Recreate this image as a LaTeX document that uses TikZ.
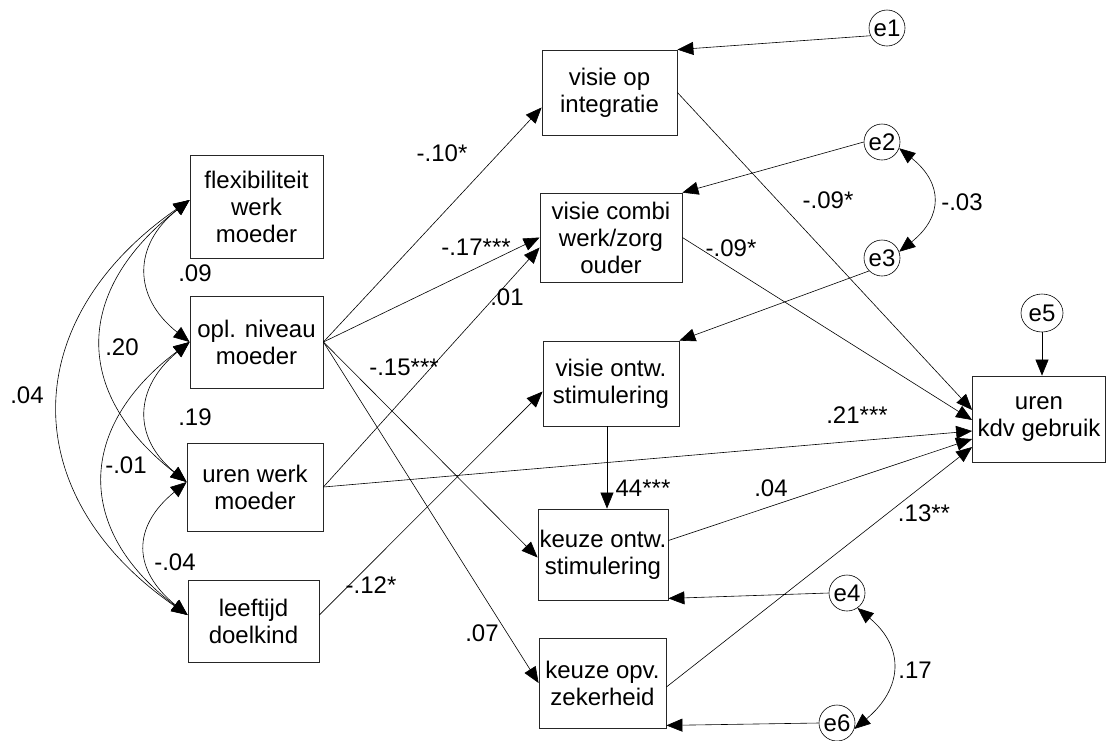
\documentclass[tikz,border=0pt]{standalone}
\usepackage{fontspec}
\setmainfont{Liberation Sans}
\usetikzlibrary{arrows.meta, positioning, calc, shapes.geometric}

\tikzset{
  box/.style={draw=black!85, line width=0.8pt, inner sep=0pt, align=center},
  err/.style={draw, circle, line width=0.6pt, inner sep=0pt, minimum size=36pt},
  effect/.style={line width=0.6pt, -{Triangle[length=16pt,width=13pt]}},
  covar/.style={line width=0.6pt, {Triangle[length=16pt,width=13pt]}-{Triangle[length=16pt,width=13pt]}},
  coef/.style={inner sep=0pt},
}

\begin{document}
\begin{tikzpicture}[x=1pt, y=-1pt, font=\fontsize{24}{27}\selectfont]
  \useasboundingbox (0,0) rectangle (1106,740);

  % exogenous variables
  \node[box, minimum width=133, minimum height=103] (flex) at (256.5,206.5) {flexibiliteit\\werk\\moeder};
  \node[box, minimum width=133, minimum height=92] (opl) at (256.5,342) {opl. niveau\\moeder};
  \node[box, minimum width=136, minimum height=88] (uwm) at (255,487) {uren werk\\moeder};
  \node[box, minimum width=131, minimum height=82] (leef) at (253.5,621) {leeftijd\\doelkind};

  % mediators
  \node[box, minimum width=135, minimum height=85] (vint) at (609.5,92.5) {visie op\\integratie};
  \node[box, minimum width=142, minimum height=89] (vcom) at (611,237.5) {visie combi\\werk/zorg\\ouder};
  \node[box, minimum width=136, minimum height=85] (vont) at (611,383.5) {visie ontw.\\stimulering};
  \node[box, minimum width=130, minimum height=91] (kon) at (603,554.5) {keuze ontw.\\stimulering};
  \node[box, minimum width=127, minimum height=90] (kopv) at (602.5,683) {keuze opv.\\zekerheid};

  % outcome
  \node[box, minimum width=133, minimum height=86] (kdv) at (1039,419) {uren\\kdv gebruik};

  % error terms
  \node[err] (e1) at (887,28) {e1};
  \node[err] (e2) at (882,142) {e2};
  \node[err] (e3) at (882,258) {e3};
  \node[err, ellipse, minimum width=42, minimum height=38] (e5) at (1042,313) {e5};
  \node[err] (e4) at (847,593) {e4};
  \node[err] (e6) at (837,723) {e6};

  \draw[effect] (e1.205) -- (vint.north east);
  \draw[effect] (e2.west) -- (vcom.north east);
  \draw[effect] (e3.225) -- (vont.north east);
  \draw[effect] (e5.south) -- (e5.south |- kdv.north);
  \draw[effect] (e4.west) -- ([yshift=2pt]kon.south east);
  \draw[effect] (e6.west) -- ([yshift=3pt]kopv.south east);

  % paths
  \draw[effect] (opl.east) -- ([yshift=-15pt]vint.west);
  \draw[effect] (opl.east) -- (vcom.west);
  \draw[effect] (opl.east) -- ([yshift=-3pt]kon.west);
  \draw[effect] (opl.east) -- (kopv.west);
  \draw[effect] (uwm.east) -- ([yshift=-10pt]vcom.west);
  \draw[effect] (uwm.east) -- ([yshift=-12pt]kdv.west);
  \draw[effect] ([yshift=6pt]leef.east) -- ([yshift=-8pt]vont.west);
  \draw[effect] (vint.east) -- ([yshift=9pt]kdv.west);
  \draw[effect] (vcom.east) -- ([yshift=-1pt]kdv.west);
  \draw[effect] ([xshift=-4pt]vont.south) -- ([xshift=-4pt]vont.south |- kon.north);
  \draw[effect] ([yshift=14pt]kon.east) -- ([yshift=-20pt]kdv.west);
  \draw[effect] ([yshift=-4pt]kopv.east) -- ([yshift=-28pt]kdv.west);

  % covariances
  \draw[covar] ([yshift=6.5pt]flex.west) .. controls +(-57,45) and +(-57,-45) .. (opl.west);
  \draw[covar] ([yshift=6.5pt]flex.west) .. controls +(-115,90) and +(-115,-90) .. ([yshift=5pt]uwm.west);
  \draw[covar] ([yshift=6.5pt]flex.west) .. controls +(-173,120) and +(-173,-120) .. ([yshift=6pt]leef.west);
  \draw[covar] (opl.west) .. controls +(-55,45) and +(-55,-45) .. ([yshift=5pt]uwm.west);
  \draw[covar] (opl.west) .. controls +(-113,85) and +(-113,-85) .. ([yshift=6pt]leef.west);
  \draw[covar] ([yshift=5pt]uwm.west) .. controls +(-55,45) and +(-55,-45) .. ([yshift=6pt]leef.west);
  \draw[covar] (e2.-20) .. controls +(44,35) and +(44,-35) .. (e3.20);
  \draw[covar] (e4.-55) .. controls +(48,40) and +(48,-40) .. (e6.-19);

  % coefficients
  \node[coef] (b1) at (442,153) {-.10*};
  \node[coef] (b2) at (476,247) {-.17***};
  \node[coef] (b3) at (507,297) {.01};
  \node[coef] (b4) at (404,367) {-.15***};
  \node[coef] (b5) at (371,585) {-.12*};
  \node[coef] (b6) at (482,633) {.07};
  \node[coef] (b7) at (643,488) {44***};
  \node[coef] (b8) at (771,488) {.04};
  \node[coef] (b9) at (857,415) {.21***};
  \node[coef] (b10) at (924,513) {.13**};
  \node[coef] (b11) at (828,200) {-.09*};
  \node[coef] (b12) at (731,248) {-.09*};
  \node[coef] (r1) at (962,202) {-.03};
  \node[coef] (r2) at (915,670) {.17};
  \node[coef] (r3) at (195,273) {.09};
  \node[coef] (r4) at (122,347) {.20};
  \node[coef] (r5) at (27,395) {.04};
  \node[coef] (r6) at (195,417) {.19};
  \node[coef] (r7) at (126,465) {-.01};
  \node[coef] (r8) at (175,562) {-.04};
\end{tikzpicture}
\end{document}
